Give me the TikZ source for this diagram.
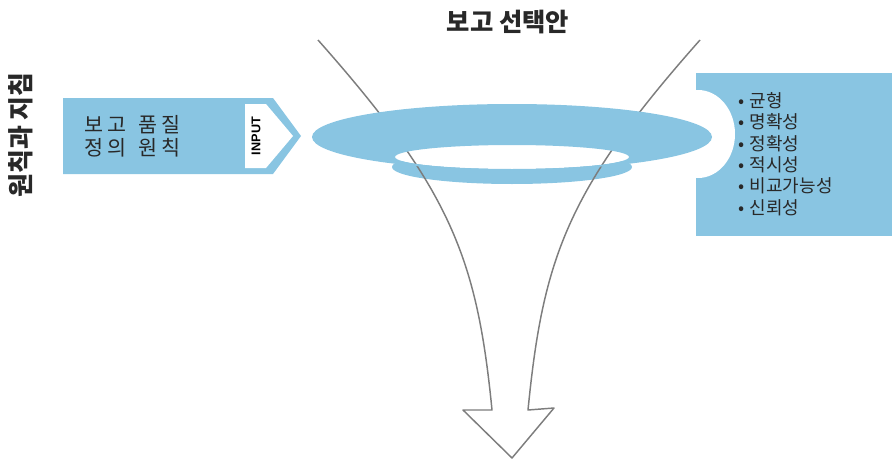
\documentclass[tikz,border=0pt]{standalone}
\usepackage{fontspec}
\setmainfont{Liberation Sans}
\newfontfamily\kr{Noto Sans CJK KR}
\usetikzlibrary{positioning}
\definecolor{skyfill}{RGB}{137,197,226}
\definecolor{funnelgray}{RGB}{125,125,125}
\definecolor{inkgray}{RGB}{40,40,40}

\begin{document}
\begin{tikzpicture}[x=0.75pt, y=-0.75pt,
  skyband/.style={fill=skyfill, draw=none},
  funnel/.style={draw=funnelgray, line width=1.1pt, line join=round},
  heading/.style={font=\kr\bfseries\fontsize{19}{22}\selectfont, text=inkgray, inner sep=0pt},
  sidehead/.style={font=\kr\bfseries\fontsize{19.5}{22}\selectfont, text=inkgray, inner sep=0pt, rotate=90},
  boxtext/.style={font=\kr\fontsize{15.5}{17.5}\selectfont, text=inkgray, align=left, inner sep=0pt, anchor=west},
  tagtext/.style={font=\bfseries\fontsize{9.5}{10}\selectfont, text=black, inner sep=0pt, rotate=90},
  listtext/.style={font=\kr\fontsize{13.5}{16}\selectfont, text=inkgray, align=left, inner sep=0pt, anchor=west}
]
\useasboundingbox (0,0) rectangle (892,460);

% right panel with the white notch
\fill[skyband] (696,73) rectangle (892,236);
\fill[white] (698,134) ellipse [x radius=37, y radius=44];

% left input arrow
\fill[skyband] (63,98) -- (273,98) -- (301,136) -- (273,174) -- (63,174) -- cycle;
\fill[white] (245,104) -- (266,104) -- (293,136) -- (266,168) -- (245,168) -- cycle;

% lower rim and hole of the disc
\fill[skyband] (512,167) ellipse [x radius=120, y radius=17];
\fill[white] (512,157) ellipse [x radius=117, y radius=12];

% funnel outline with arrow head
\draw[funnel] (318,40) .. controls (451,190) and (477,258) .. (492,410)
  -- (463,410) -- (512,458) -- (554,408) -- (528,410)
  .. controls (543,258) and (567,190) .. (700,40);

% upper disc, hole left open
\fill[skyband, even odd rule] (512,137) ellipse [x radius=200, y radius=33]
  (512,157) ellipse [x radius=117, y radius=12];

\node[heading] (choice) at (508,22) {보고 선택안};
\node[sidehead] (principles) at (21,135) {원칙과 지침};
\node[boxtext] (quality) at (84,136) {보 고\hspace{0.55em}품 질\\정 의\hspace{0.55em}원 칙};
\node[tagtext] (input) at (256,136) {INPUT};
\node[listtext] (traits) at (738,154) {•\hspace{0.3em}균형\\•\hspace{0.3em}명확성\\•\hspace{0.3em}정확성\\•\hspace{0.3em}적시성\\•\hspace{0.3em}비교가능성\\•\hspace{0.3em}신뢰성};

\end{tikzpicture}
\end{document}
